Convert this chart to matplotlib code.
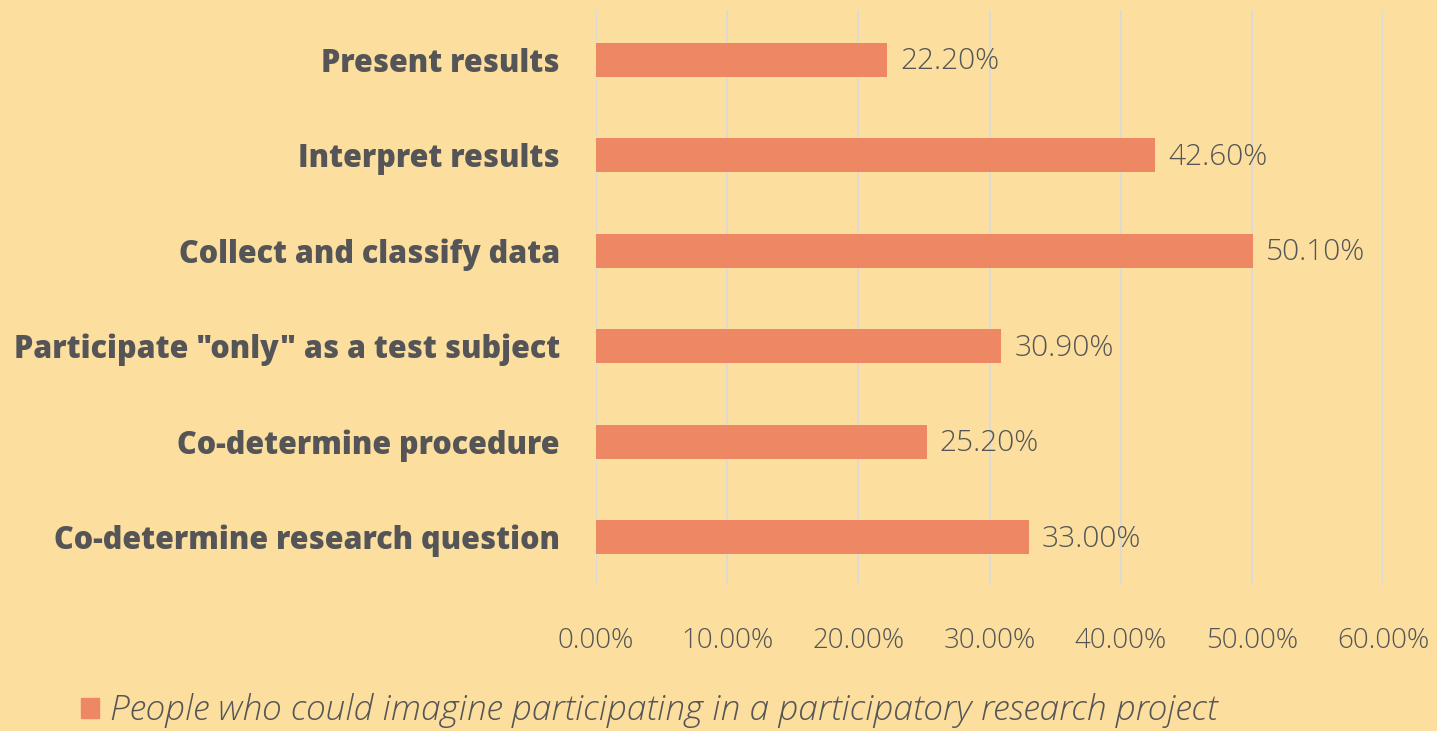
import matplotlib.pyplot as plt
from matplotlib.patches import Patch

categories = ['Co-determine research question', 'Co-determine procedure',
              'Participate "only" as a test subject', 'Collect and classify data',
              'Interpret results', 'Present results']
values = [33.0, 25.2, 30.9, 50.1, 42.6, 22.2]
xticks = [0, 10, 20, 30, 40, 50, 60]
series_name = 'People who could imagine participating in a participatory research project'

bg = '#FCDF9E'
bar_color = '#EE8763'
text_color = '#555557'

fig = plt.figure(figsize=(14.37, 7.31), dpi=100, facecolor=bg)
ax = fig.add_axes([596 / 1437, 1 - 585 / 731, (1383 - 596) / 1437, 575 / 731])
ax.set_facecolor(bg)

ypos = range(len(categories))
ax.barh(ypos, values, height=0.355, color=bar_color, zorder=3)
for y, v in zip(ypos, values):
    ax.text(v + 1.0, y - 0.02, f'{v:.2f}%', va='center', ha='left',
            fontsize=21.5, color=text_color, family='Open Sans', fontweight='light')

ax.set_xlim(0, 60)
ax.set_ylim(-0.5, 5.52)
ax.set_xticks(xticks)
ax.set_xticklabels([f'{t:.2f}%' for t in xticks], fontsize=20, color=text_color,
                   family='Open Sans', fontweight='light')
ax.set_yticks(list(ypos))
ax.set_yticklabels(categories, fontsize=22, color=text_color,
                   family='Open Sans', fontweight='heavy')
ax.tick_params(axis='both', length=0)
ax.tick_params(axis='x', pad=30)
ax.tick_params(axis='y', pad=26)
ax.grid(axis='x', color='#D9D9D9', linewidth=1.2, zorder=0)
for s in ax.spines.values():
    s.set_visible(False)

fig.legend(handles=[Patch(color=bar_color)], labels=[series_name],
           loc='center left', bbox_to_anchor=(49 / 1437, 1 - 711 / 731),
           frameon=False, handlelength=0.52, handleheight=0.52, handletextpad=0.3,
           prop={'family': 'Open Sans', 'style': 'italic', 'weight': 'light', 'size': 25.5},
           labelcolor=text_color)

fig.savefig('out.png', dpi=100, facecolor=bg)
